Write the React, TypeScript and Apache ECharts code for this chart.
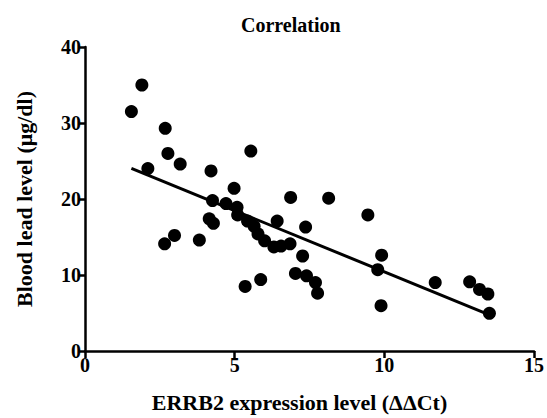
import React, { useEffect, useRef } from "react";
import * as echarts from "echarts";

const errb2 = [
  1.55, 1.9, 2.1, 2.68, 2.77, 3.18, 4.21, 4.98, 5.54, 6.87, 8.14, 9.45,
  2.66, 2.99, 3.82, 4.15, 4.29, 4.26, 4.71, 5.08, 5.1, 5.43, 5.65, 5.78,
  6.0, 6.42, 6.31, 6.55, 6.85, 7.37, 7.27, 5.35, 5.87, 7.03, 7.4, 7.7,
  7.77, 9.91, 9.78, 9.89, 11.7, 12.85, 13.18, 13.46, 13.51,
];
const bloodLead = [
  31.5, 35.0, 24.0, 29.3, 26.0, 24.6, 23.7, 21.4, 26.3, 20.2, 20.1, 17.9,
  14.1, 15.2, 14.6, 17.4, 16.8, 19.8, 19.4, 18.9, 17.9, 17.1, 16.4, 15.4,
  14.5, 17.1, 13.7, 13.8, 14.1, 16.3, 12.5, 8.5, 9.4, 10.2, 9.9, 9.0,
  7.6, 12.6, 10.7, 5.96, 9.0, 9.1, 8.1, 7.5, 4.96,
];
const xTicks = { min: 0, max: 15, interval: 5 };
const yTicks = { min: 0, max: 40, interval: 10 };

const titleText = "Correlation";
const xName = "ERRB2 expression level (ΔΔCt)";
const yName = "Blood lead level (μg/dl)";

function fitLine(xs: number[], ys: number[]) {
  const n = xs.length;
  const mx = xs.reduce((a, b) => a + b, 0) / n;
  const my = ys.reduce((a, b) => a + b, 0) / n;
  let sxy = 0, sxx = 0;
  for (let i = 0; i < n; i++) {
    sxy += (xs[i] - mx) * (ys[i] - my);
    sxx += (xs[i] - mx) * (xs[i] - mx);
  }
  const b = sxy / sxx;
  const a = my - b * mx;
  const x0 = Math.min(...xs);
  const x1 = Math.max(...xs);
  return [[x0, a + b * x0], [x1, a + b * x1]];
}

export default function App() {
  const ref = useRef<HTMLDivElement>(null);
  useEffect(() => {
    if (!ref.current) return;
    const chart = echarts.init(ref.current, null, { renderer: "svg" });
    const font = "'Liberation Serif', 'Times New Roman', serif";
    const points = errb2.map((x, i) => [x, bloodLead[i]]);
    const axisCommon = {
      axisLine: { show: true, onZero: false, lineStyle: { color: "#000", width: 2.5 } },
      axisTick: { show: true, length: 7, lineStyle: { color: "#000", width: 2.5 } },
      splitLine: { show: false },
      axisLabel: { color: "#000", fontFamily: font, fontWeight: "bold", fontSize: 20, margin: 4 },
    };
    chart.setOption({
      animation: false,
      backgroundColor: "#fff",
      title: {
        text: titleText,
        left: 236,
        top: 10,
        textStyle: { color: "#000", fontFamily: font, fontWeight: "bold", fontSize: 20 },
      },
      grid: { left: 85, right: 10, top: 47, bottom: 67, containLabel: false },
      xAxis: {
        type: "value",
        ...xTicks,
        name: xName,
        nameLocation: "middle",
        nameGap: 40,
        nameTextStyle: {
          color: "#000", fontFamily: font, fontWeight: "bold", fontSize: 22,
          padding: [0, 20, 0, 0],
        },
        ...axisCommon,
      },
      yAxis: {
        type: "value",
        ...yTicks,
        name: yName,
        nameLocation: "middle",
        nameGap: 50,
        nameTextStyle: { color: "#000", fontFamily: font, fontWeight: "bold", fontSize: 22 },
        ...axisCommon,
      },
      series: [
        {
          type: "line",
          data: fitLine(errb2, bloodLead),
          symbol: "none",
          lineStyle: { color: "#000", width: 3 },
          z: 3,
        },
        {
          type: "scatter",
          data: points,
          symbol: "circle",
          symbolSize: 13,
          itemStyle: { color: "#000", opacity: 1 },
          z: 2,
        },
      ],
    });
    return () => chart.dispose();
  }, []);
  return (
    <div
      ref={ref}
      style={{ position: "fixed", left: 0, top: 0, width: 547, height: 418 }}
    />
  );
}
